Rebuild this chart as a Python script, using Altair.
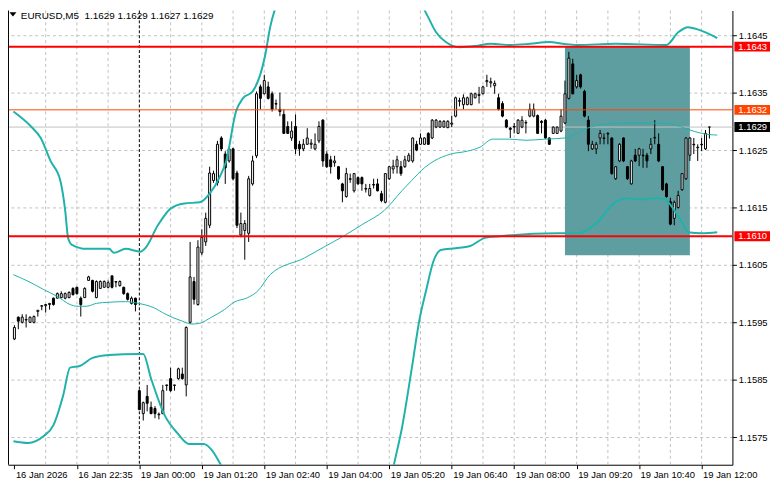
import altair as alt
import pandas as pd

symbol = "EURUSD,M5"
time_labels = ["16 Jan 2026", "16 Jan 22:35", "19 Jan 00:00", "19 Jan 01:20", "19 Jan 02:40",
               "19 Jan 04:00", "19 Jan 05:20", "19 Jan 06:40", "19 Jan 08:00", "19 Jan 09:20",
               "19 Jan 10:40", "19 Jan 12:00"]
label_step = 16
grid_step = 8
day_separator = 32

opens = [
    1.15921, 1.15959, 1.15950, 1.15954, 1.15950, 1.15950, 1.15969, 1.15978, 1.15979, 1.15981,
    1.15992, 1.15992, 1.15993, 1.15992, 1.15993, 1.16009, 1.16011, 1.15992, 1.15993, 1.16023,
    1.16023, 1.15993, 1.16009, 1.16011, 1.16011, 1.16031, 1.16021, 1.16014, 1.16011, 1.16000,
    1.15983, 1.15992, 1.15831, 1.15791, 1.15821, 1.15802, 1.15800, 1.15789, 1.15791, 1.15840,
    1.15852, 1.15840, 1.15852, 1.15860, 1.15841, 1.15950, 1.16021, 1.15981, 1.16071, 1.16090,
    1.16119, 1.16197, 1.16193, 1.16271, 1.16243, 1.16231, 1.16252, 1.16210, 1.16102, 1.16110,
    1.16105, 1.16191, 1.16240, 1.16360, 1.16348, 1.16360, 1.16348, 1.16331, 1.16321, 1.16312,
    1.16291, 1.16271, 1.16291, 1.16260, 1.16252, 1.16260, 1.16260, 1.16252, 1.16266, 1.16302,
    1.16243, 1.16233, 1.16228, 1.16221, 1.16191, 1.16169, 1.16200, 1.16179, 1.16202, 1.16202,
    1.16183, 1.16171, 1.16190, 1.16191, 1.16174, 1.16159, 1.16200, 1.16217, 1.16221, 1.16221,
    1.16221, 1.16231, 1.16231, 1.16260, 1.16260, 1.16260, 1.16279, 1.16271, 1.16290, 1.16290,
    1.16290, 1.16289, 1.16295, 1.16309, 1.16336, 1.16329, 1.16329, 1.16329, 1.16341, 1.16345,
    1.16348, 1.16369, 1.16367, 1.16362, 1.16341, 1.16331, 1.16302, 1.16288, 1.16291, 1.16279,
    1.16290, 1.16297, 1.16309, 1.16309, 1.16310, 1.16300, 1.16302, 1.16271, 1.16279, 1.16279,
    1.16283, 1.16297, 1.16340, 1.16400, 1.16360, 1.16381, 1.16352, 1.16302, 1.16252, 1.16252,
    1.16271, 1.16271, 1.16279, 1.16271, 1.16200, 1.16231, 1.16271, 1.16221, 1.16191, 1.16241,
    1.16241, 1.16241, 1.16241, 1.16252, 1.16271, 1.16260, 1.16221, 1.16191, 1.16160, 1.16131,
    1.16150, 1.16181, 1.16200, 1.16241, 1.16260, 1.16254, 1.16260, 1.16252, 1.16290]
highs = [
    1.15945, 1.15960, 1.15964, 1.15964, 1.15960, 1.15962, 1.15971, 1.15979, 1.15981, 1.15983,
    1.15993, 1.16002, 1.16004, 1.16002, 1.16004, 1.16011, 1.16012, 1.15995, 1.16011, 1.16031,
    1.16024, 1.16023, 1.16023, 1.16023, 1.16023, 1.16031, 1.16022, 1.16023, 1.16012, 1.16002,
    1.15995, 1.15993, 1.15833, 1.15812, 1.15841, 1.15812, 1.15804, 1.15793, 1.15841, 1.15841,
    1.15871, 1.15841, 1.15871, 1.15871, 1.15943, 1.16090, 1.16029, 1.16093, 1.16112, 1.16141,
    1.16221, 1.16214, 1.16266, 1.16274, 1.16248, 1.16254, 1.16254, 1.16214, 1.16141, 1.16128,
    1.16205, 1.16240, 1.16352, 1.16364, 1.16381, 1.16369, 1.16352, 1.16338, 1.16350, 1.16321,
    1.16300, 1.16300, 1.16312, 1.16266, 1.16269, 1.16288, 1.16269, 1.16279, 1.16300, 1.16304,
    1.16248, 1.16240, 1.16240, 1.16222, 1.16193, 1.16219, 1.16209, 1.16210, 1.16204, 1.16204,
    1.16191, 1.16191, 1.16200, 1.16200, 1.16179, 1.16210, 1.16222, 1.16233, 1.16240, 1.16231,
    1.16240, 1.16245, 1.16272, 1.16266, 1.16279, 1.16272, 1.16281, 1.16304, 1.16304, 1.16302,
    1.16302, 1.16302, 1.16310, 1.16343, 1.16341, 1.16347, 1.16343, 1.16350, 1.16350, 1.16360,
    1.16362, 1.16381, 1.16376, 1.16371, 1.16348, 1.16335, 1.16304, 1.16290, 1.16297, 1.16304,
    1.16309, 1.16302, 1.16331, 1.16331, 1.16312, 1.16302, 1.16304, 1.16272, 1.16291, 1.16291,
    1.16321, 1.16371, 1.16421, 1.16409, 1.16381, 1.16383, 1.16355, 1.16309, 1.16266, 1.16264,
    1.16285, 1.16279, 1.16281, 1.16272, 1.16222, 1.16262, 1.16272, 1.16222, 1.16233, 1.16252,
    1.16254, 1.16252, 1.16245, 1.16271, 1.16302, 1.16279, 1.16222, 1.16193, 1.16167, 1.16162,
    1.16179, 1.16210, 1.16272, 1.16272, 1.16271, 1.16260, 1.16271, 1.16285, 1.16290]
lows = [
    1.15919, 1.15938, 1.15948, 1.15941, 1.15950, 1.15948, 1.15960, 1.15971, 1.15967, 1.15972,
    1.15979, 1.15992, 1.15992, 1.15990, 1.15992, 1.15997, 1.15998, 1.15960, 1.15993, 1.16023,
    1.16002, 1.15992, 1.16009, 1.16011, 1.16009, 1.16009, 1.16011, 1.16012, 1.15998, 1.15988,
    1.15981, 1.15969, 1.15797, 1.15779, 1.15795, 1.15790, 1.15783, 1.15781, 1.15790, 1.15831,
    1.15829, 1.15831, 1.15850, 1.15850, 1.15821, 1.15947, 1.15981, 1.15979, 1.16067, 1.16083,
    1.16114, 1.16193, 1.16188, 1.16248, 1.16191, 1.16228, 1.16197, 1.16114, 1.16098, 1.16059,
    1.16090, 1.16188, 1.16236, 1.16321, 1.16347, 1.16338, 1.16317, 1.16321, 1.16309, 1.16278,
    1.16278, 1.16266, 1.16243, 1.16240, 1.16248, 1.16259, 1.16252, 1.16250, 1.16262, 1.16221,
    1.16219, 1.16209, 1.16221, 1.16198, 1.16159, 1.16167, 1.16193, 1.16176, 1.16190, 1.16179,
    1.16176, 1.16169, 1.16183, 1.16178, 1.16159, 1.16157, 1.16198, 1.16209, 1.16209, 1.16205,
    1.16219, 1.16229, 1.16228, 1.16248, 1.16259, 1.16259, 1.16259, 1.16269, 1.16288, 1.16289,
    1.16289, 1.16288, 1.16290, 1.16307, 1.16326, 1.16321, 1.16328, 1.16328, 1.16340, 1.16331,
    1.16347, 1.16360, 1.16359, 1.16348, 1.16319, 1.16307, 1.16288, 1.16271, 1.16279, 1.16278,
    1.16288, 1.16279, 1.16307, 1.16307, 1.16278, 1.16279, 1.16269, 1.16259, 1.16278, 1.16278,
    1.16281, 1.16295, 1.16338, 1.16347, 1.16357, 1.16357, 1.16307, 1.16248, 1.16250, 1.16243,
    1.16260, 1.16260, 1.16260, 1.16207, 1.16198, 1.16229, 1.16229, 1.16198, 1.16190, 1.16229,
    1.16222, 1.16219, 1.16219, 1.16243, 1.16260, 1.16229, 1.16179, 1.16167, 1.16119, 1.16119,
    1.16148, 1.16179, 1.16198, 1.16231, 1.16243, 1.16231, 1.16248, 1.16250, 1.16270]
closes = [
    1.15941, 1.15952, 1.15959, 1.15955, 1.15959, 1.15960, 1.15971, 1.15979, 1.15981, 1.15983,
    1.15981, 1.16000, 1.16000, 1.16000, 1.16002, 1.15998, 1.16000, 1.15981, 1.16009, 1.16029,
    1.16004, 1.16021, 1.16021, 1.16021, 1.16019, 1.16011, 1.16020, 1.16021, 1.16000, 1.15990,
    1.15992, 1.15981, 1.15798, 1.15810, 1.15809, 1.15791, 1.15791, 1.15790, 1.15831, 1.15841,
    1.15831, 1.15841, 1.15869, 1.15852, 1.15941, 1.16029, 1.15990, 1.16081, 1.16098, 1.16131,
    1.16210, 1.16209, 1.16260, 1.16252, 1.16219, 1.16252, 1.16200, 1.16119, 1.16122, 1.16122,
    1.16200, 1.16231, 1.16348, 1.16340, 1.16371, 1.16340, 1.16321, 1.16330, 1.16317, 1.16279,
    1.16279, 1.16283, 1.16252, 1.16252, 1.16260, 1.16271, 1.16262, 1.16260, 1.16291, 1.16231,
    1.16221, 1.16221, 1.16231, 1.16200, 1.16179, 1.16209, 1.16199, 1.16209, 1.16191, 1.16191,
    1.16182, 1.16183, 1.16189, 1.16179, 1.16162, 1.16209, 1.16221, 1.16222, 1.16233, 1.16209,
    1.16233, 1.16241, 1.16271, 1.16250, 1.16271, 1.16271, 1.16260, 1.16302, 1.16302, 1.16300,
    1.16300, 1.16300, 1.16297, 1.16341, 1.16335, 1.16341, 1.16341, 1.16348, 1.16348, 1.16347,
    1.16360, 1.16371, 1.16369, 1.16366, 1.16321, 1.16309, 1.16290, 1.16286, 1.16290, 1.16302,
    1.16302, 1.16298, 1.16321, 1.16321, 1.16279, 1.16298, 1.16271, 1.16260, 1.16290, 1.16290,
    1.16309, 1.16348, 1.16410, 1.16348, 1.16371, 1.16360, 1.16309, 1.16260, 1.16260, 1.16260,
    1.16279, 1.16270, 1.16278, 1.16209, 1.16221, 1.16260, 1.16231, 1.16200, 1.16231, 1.16231,
    1.16252, 1.16240, 1.16231, 1.16260, 1.16272, 1.16231, 1.16181, 1.16169, 1.16121, 1.16159,
    1.16171, 1.16209, 1.16271, 1.16271, 1.16259, 1.16255, 1.16259, 1.16279, 1.16290]

# Bollinger bands, read as points (bar index, price)
upper_idx = [-0.25, 4.25, 6.75, 9.25, 11.75, 13, 13.75, 14.75, 18.5, 24.25, 25.5, 28.5, 32.25,
             33.5, 36.75, 40, 43.5, 47.5, 50, 52.5, 54.25, 56.75, 58.5, 61, 64.25, 65.5, 67.25,
             69, 74, 82, 92, 99, 104, 106, 108, 110.5, 114, 118, 122, 127, 132, 137, 140.5, 144,
             154, 167, 170, 172.5, 174, 177, 180]
upper_val = [1.16317, 1.16291, 1.16271, 1.16231, 1.16197, 1.16145, 1.16097, 1.16085, 1.16078,
             1.16078, 1.16071, 1.16078, 1.16073, 1.16079, 1.16119, 1.16148, 1.16157, 1.16159,
             1.16174, 1.16202, 1.16231, 1.16317, 1.16340, 1.16352, 1.16416, 1.16464, 1.16507,
             1.16550, 1.16602, 1.16636, 1.16610, 1.16559, 1.16507, 1.16481, 1.16455, 1.16438,
             1.16429, 1.16431, 1.16435, 1.16433, 1.16435, 1.16438, 1.16435, 1.16433, 1.16435,
             1.16433, 1.16455, 1.16464, 1.16462, 1.16455, 1.16445]
mid_idx = [-0.25, 4.25, 7.5, 11, 14.25, 16, 18.5, 21, 24.25, 28.5, 31.75, 35.5, 38.75, 43, 45.5,
           47.25, 50.5, 53.75, 56.25, 59.75, 62.25, 65.5, 74.25, 79.25, 84.25, 89.25, 94.75,
           99.25, 101.75, 105, 107.5, 111.75, 116, 119.25, 122.5, 126.75, 131, 136, 141, 143.5,
           147.5, 151.75, 156, 164.25, 168.5, 172.5, 176, 180]
mid_val = [1.16033, 1.16019, 1.16007, 1.15995, 1.15981, 1.15978, 1.15978, 1.15983, 1.15985,
           1.15986, 1.15983, 1.15976, 1.15964, 1.15952, 1.15947, 1.15948, 1.15959, 1.15972,
           1.15985, 1.15993, 1.16004, 1.16033, 1.16062, 1.16081, 1.16100, 1.16121, 1.16145,
           1.16179, 1.16197, 1.16219, 1.16231, 1.16243, 1.16248, 1.16255, 1.16269, 1.16269,
           1.16267, 1.16269, 1.16271, 1.16278, 1.16290, 1.16295, 1.16297, 1.16297, 1.16295,
           1.16286, 1.16279, 1.16276]
lower_idx = [-0.25, 3.5, 7.5, 10, 12.5, 14.25, 16.75, 20, 24.25, 31.75, 33, 35, 38.5, 41.75,
             44.75, 48.5, 50.5, 53, 56.75, 64.25, 74.25, 86.75, 94.25, 97.25, 99.25, 101.75,
             103.75, 105.5, 107.25, 109.25, 113, 116.75, 120.5, 124.25, 139.25, 144.25, 149.25,
             153.5, 156.75, 161, 164.25, 166.75, 168.5, 171, 172.5, 176, 180]
lower_val = [1.15743, 1.15740, 1.15752, 1.15771, 1.15823, 1.15871, 1.15874, 1.15888, 1.15893,
             1.15895, 1.15895, 1.15852, 1.15788, 1.15757, 1.15738, 1.15738, 1.15728, 1.15700,
             1.15645, 1.15576, 1.15542, 1.15550, 1.15611, 1.15704, 1.15766, 1.15869, 1.15955,
             1.16007, 1.16055, 1.16076, 1.16079, 1.16083, 1.16097, 1.16100, 1.16105, 1.16105,
             1.16124, 1.16157, 1.16166, 1.16164, 1.16166, 1.16164, 1.16150, 1.16124, 1.16107,
             1.16105, 1.16107]

price_ticks = [1.1575, 1.1585, 1.1595, 1.1605, 1.1615, 1.1625, 1.1635, 1.1645]
levels = [1.1643, 1.1632, 1.1610]
level_colors = ["#FF0000", "#FF4500", "#FF0000"]
level_widths = [2, 1, 2]
bid_price = 1.1629
box_prices = [1.1643, 1.1632, 1.1629, 1.1610]
box_colors = ["#FF0000", "#FF4500", "#000000", "#FF0000"]
zone_start, zone_end = 141, 173
zone_top, zone_bottom = 1.1643, 1.16067

# ---------------------------------------------------------------- layout
W, H = 732, 459
FONT = "Liberation Sans"
FS = 9.5
TEAL = "#20B2AA"
xs = alt.Scale(domain=[-0.375, 182.625], nice=False, zero=False)
ys = alt.Scale(domain=[1.15702, 1.16493], nice=False, zero=False)

n = len(opens)
candles = pd.DataFrame({"i": list(range(n)), "open": opens, "high": highs,
                        "low": lows, "close": closes})

label_expr = "[" + ",".join("'%s'" % s for s in time_labels) + "][round(datum.value / %d)]" % label_step
x_axis = alt.Axis(values=[k * label_step for k in range(len(time_labels))], labelExpr=label_expr,
                  labelAlign="left", labelBaseline="top", labelPadding=1, labelOffset=1,
                  labelFont=FONT, labelFontSize=FS, labelColor="black", labelFlush=False,
                  labelOverlap=False, tickSize=4, tickColor="black", domainColor="black",
                  grid=False, title=None)
y_axis = alt.Axis(orient="right", values=price_ticks, format=".4f", labelFont=FONT,
                  labelFontSize=FS, labelColor="black", labelPadding=2, tickSize=4,
                  tickColor="black", domainColor="black", grid=True, gridColor="#C0C0C0",
                  gridDash=[3, 3], title=None)

# first layer carries both axes (drawn behind every mark)
axes_layer = alt.Chart(candles).mark_point(opacity=0, size=1).encode(
    x=alt.X("i:Q", scale=xs, axis=x_axis), y=alt.Y("close:Q", scale=ys, axis=y_axis))

grid_df = pd.DataFrame({"i": [k for k in range(grid_step, n, grid_step) if k != day_separator]})
vgrid = alt.Chart(grid_df).mark_rule(color="#C0C0C0", strokeDash=[3, 3], strokeWidth=1).encode(
    x=alt.X("i:Q", scale=xs))
sep = alt.Chart(pd.DataFrame({"i": [day_separator]})).mark_rule(
    color="black", strokeDash=[3, 2], strokeWidth=1).encode(x=alt.X("i:Q", scale=xs))

zone = alt.Chart(pd.DataFrame({"a": [zone_start], "b": [zone_end], "t": [zone_top],
                               "u": [zone_bottom]})).mark_rect(color="#5F9EA0", opacity=1).encode(
    x=alt.X("a:Q", scale=xs), x2="b:Q",
    y=alt.Y("t:Q", scale=ys), y2="u:Q")

bid = alt.Chart(pd.DataFrame({"p": [bid_price]})).mark_rule(color="#C0C0C0", strokeWidth=1).encode(
    y=alt.Y("p:Q", scale=ys))

wicks = alt.Chart(candles).mark_rule(color="black", strokeWidth=1).encode(
    x=alt.X("i:Q", scale=xs),
    y=alt.Y("low:Q", scale=ys), y2="high:Q")
bodies = alt.Chart(candles).mark_bar(size=2, stroke="black", strokeWidth=1, opacity=1).encode(
    x=alt.X("i:Q", scale=xs),
    y=alt.Y("open:Q", scale=ys), y2="close:Q",
    fill=alt.condition("datum.close >= datum.open", alt.value("white"), alt.value("black")))


def band(idx, val, width):
    df = pd.DataFrame({"i": idx, "v": val})
    return alt.Chart(df).mark_line(color=TEAL, strokeWidth=width, clip=True,
                                   interpolate="monotone").encode(
        x=alt.X("i:Q", scale=xs), y=alt.Y("v:Q", scale=ys))


bands = alt.layer(band(upper_idx, upper_val, 2), band(mid_idx, mid_val, 1),
                  band(lower_idx, lower_val, 2))

lv = pd.DataFrame({"p": levels, "c": level_colors, "w": level_widths})
level_lines = alt.Chart(lv).mark_rule().encode(
    y=alt.Y("p:Q", scale=ys),
    color=alt.Color("c:N", scale=None), strokeWidth=alt.StrokeWidth("w:Q", scale=None))

bx = pd.DataFrame({"p": box_prices, "c": box_colors})
boxes = alt.Chart(bx).mark_rule(strokeWidth=10, strokeCap="butt").encode(
    x=alt.value(W + 2), x2=alt.value(W + 38),
    y=alt.Y("p:Q", scale=ys), color=alt.Color("c:N", scale=None))
box_text = alt.Chart(bx).mark_text(align="left", baseline="middle", font=FONT, fontSize=FS,
                                   color="white").encode(
    x=alt.value(W + 6), y=alt.Y("p:Q", scale=ys), text=alt.Text("p:Q", format=".4f"))

last = candles.iloc[-1]
title_str = "%s\u00a0\u00a0%.4f %.4f %.4f %.4f" % (symbol, last["open"], last["high"], last["low"], last["close"])
title = alt.Chart(pd.DataFrame({"t": [title_str]})).mark_text(
    align="left", baseline="top", font=FONT, fontSize=10, color="black").encode(
    x=alt.value(13), y=alt.value(1), text="t:N")
tri = alt.Chart(pd.DataFrame({"t": [1]})).mark_point(
    shape="M -1 -0.6 L 1 -0.6 L 0 0.6 Z", filled=True, color="black", size=49,
    opacity=1, strokeWidth=0).encode(x=alt.value(5), y=alt.value(4))
frame = alt.Chart(pd.DataFrame({"t": [1]})).mark_rule(color="black", strokeWidth=1).encode(
    x=alt.value(0.5), y=alt.value(0), y2=alt.value(H))

chart = alt.layer(axes_layer, vgrid, sep, zone, bid, wicks, bodies, bands, level_lines, boxes,
                  box_text, title, tri, frame).properties(
    width=W, height=H, autosize=alt.AutoSizeParams(type="none"),
    padding={"left": 0, "top": 0, "right": 41, "bottom": 22},
).configure_view(stroke=None)

chart.save("out.html", embed_options={"renderer": "svg", "actions": False})
